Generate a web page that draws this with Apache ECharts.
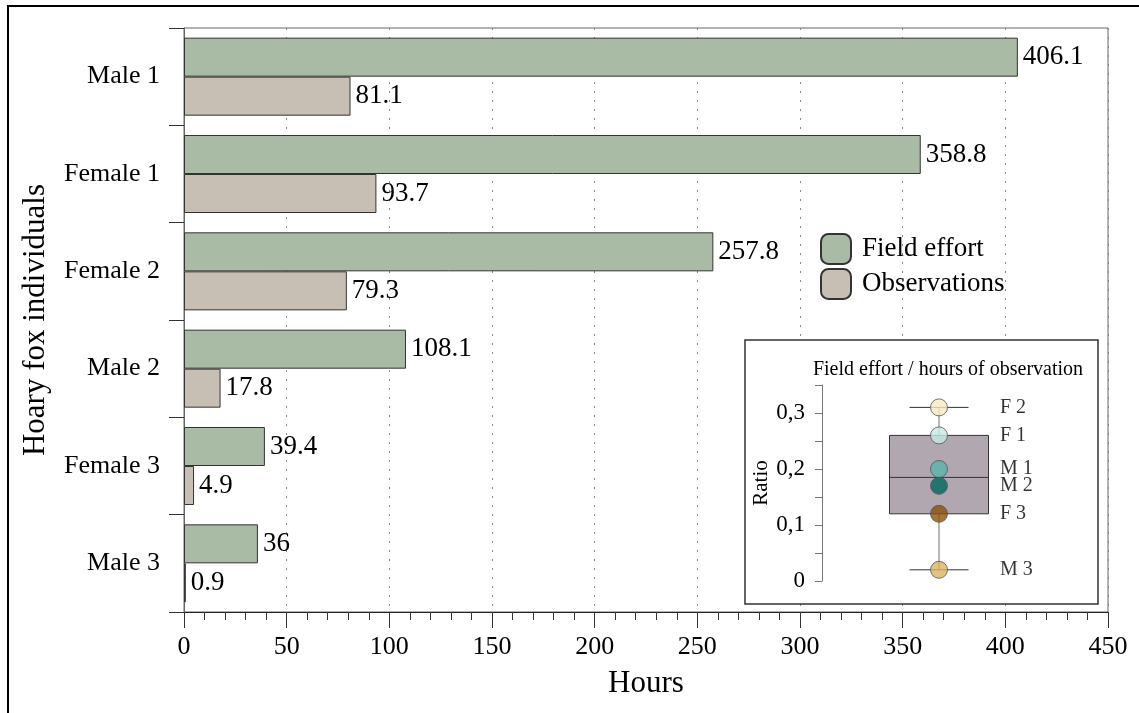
<!DOCTYPE html>
<html>
<head>
<meta charset="utf-8">
<script src="https://cdn.jsdelivr.net/npm/echarts@6/dist/echarts.min.js"></script>
<style>
  html, body { margin: 0; padding: 0; background: #fff; }
  #chart { width: 1139px; height: 713px; }
</style>
</head>
<body>
<div id="chart"></div>
<script>
const individuals = ["Male 1", "Female 1", "Female 2", "Male 2", "Female 3", "Male 3"];
const fieldEffort = [406.1, 358.8, 257.8, 108.1, 39.4, 36];
const observations = [81.1, 93.7, 79.3, 17.8, 4.9, 0.9];

// inset: ratio per individual
const ratioLabels = ["F 2", "F 1", "M 1", "M 2", "F 3", "M 3"];
const ratioValues = [0.31, 0.26, 0.20, 0.17, 0.12, 0.02];
const ratioColors = ["#f6e8c3", "#c7eae5", "#5ab4ac", "#01665e", "#8c510a", "#dcb461"];
// min, q1, median, q3, max
const ratioBox = [0.02, 0.12, 0.185, 0.26, 0.31];

const FONT = "Liberation Serif";

const chart = echarts.init(document.getElementById("chart"), null, { renderer: "canvas" });

chart.setOption({
  animation: false,
  backgroundColor: "#fff",
  textStyle: { fontFamily: FONT, color: "#000" },
  grid: [
    { left: 184, top: 28, width: 924, height: 584, show: true, borderColor: "#666", borderWidth: 1, backgroundColor: "transparent" },
    { left: 822, top: 385, width: 234, height: 196, show: false }
  ],
  legend: {
    data: ["Field effort", "Observations"],
    orient: "vertical",
    left: 820,
    top: 233,
    padding: 0,
    icon: "roundRect",
    itemWidth: 30,
    itemHeight: 30,
    itemGap: 3,
    textStyle: { fontFamily: FONT, fontSize: 27, color: "#000", padding: [0, 0, 0, 6] }
  },
  xAxis: [
    {
      type: "value",
      gridIndex: 0,
      min: 0,
      max: 450,
      interval: 50,
      name: "Hours",
      nameLocation: "middle",
      nameGap: 56,
      nameTextStyle: { fontFamily: FONT, fontSize: 31, color: "#000" },
      axisLine: { show: true, lineStyle: { color: "#222", width: 1 } },
      axisTick: { show: true, length: 16, lineStyle: { color: "#333" } },
      minorTick: { show: true, splitNumber: 5, length: 8, lineStyle: { color: "#333" } },
      axisLabel: { fontFamily: FONT, fontSize: 26, color: "#000", margin: 22 },
      splitLine: { show: true, lineStyle: { color: "#888", type: [2, 7], width: 1 } }
    },
    {
      type: "category",
      gridIndex: 1,
      data: ["ratio"],
      show: false
    }
  ],
  yAxis: [
    {
      type: "category",
      gridIndex: 0,
      data: individuals,
      inverse: true,
      name: "Hoary fox individuals",
      nameLocation: "middle",
      nameGap: 133,
      nameTextStyle: { fontFamily: FONT, fontSize: 31, color: "#000" },
      axisLine: { show: true, lineStyle: { color: "#666", width: 1 } },
      axisTick: { show: true, length: 15, lineStyle: { color: "#333" } },
      axisLabel: { fontFamily: FONT, fontSize: 26, color: "#000", margin: 24 }
    },
    {
      type: "value",
      gridIndex: 1,
      min: 0,
      max: 0.35,
      interval: 0.05,
      z: 20,
      name: "Ratio",
      nameLocation: "middle",
      nameGap: 48,
      nameTextStyle: { fontFamily: FONT, fontSize: 21, color: "#000" },
      axisLine: { show: true, lineStyle: { color: "#777", width: 1 } },
      axisTick: { show: true, length: 7, lineStyle: { color: "#777" } },
      splitLine: { show: false },
      axisLabel: {
        fontFamily: FONT,
        fontSize: 23,
        color: "#000",
        margin: 17,
        formatter: (v) => {
          const t = Math.round(v * 100);
          if (t % 10 !== 0) return "";
          return t === 0 ? "0" : String(t / 100).replace(".", ",");
        }
      }
    }
  ],
  graphic: [
    {
      type: "rect",
      z: 1,
      shape: { x: 8, y: 6, width: 1200, height: 800 },
      style: { fill: "none", stroke: "#000", lineWidth: 2 }
    },
    {
      type: "rect",
      z: 10,
      shape: { x: 745, y: 340, width: 353, height: 264 },
      style: { fill: "#fff", stroke: "#333", lineWidth: 1.5 }
    },
    {
      type: "text",
      z: 20,
      x: 948,
      y: 370,
      style: {
        text: "Field effort / hours of observation",
        fontFamily: FONT,
        fontSize: 20,
        fill: "#000",
        align: "center",
        verticalAlign: "middle"
      }
    }
  ],
  series: [
    {
      name: "Field effort",
      type: "bar",
      xAxisIndex: 0,
      yAxisIndex: 0,
      data: fieldEffort,
      barWidth: 39,
      barGap: "0%",
      itemStyle: { color: "#a9baa5", borderColor: "#333", borderWidth: 1 },
      label: { show: true, position: "right", distance: 5, fontFamily: FONT, fontSize: 27, color: "#000" }
    },
    {
      name: "Observations",
      type: "bar",
      xAxisIndex: 0,
      yAxisIndex: 0,
      data: observations,
      barWidth: 39,
      barGap: "0%",
      itemStyle: { color: "#c7bfb4", borderColor: "#333", borderWidth: 1 },
      label: { show: true, position: "right", distance: 5, fontFamily: FONT, fontSize: 27, color: "#000" }
    },
    {
      type: "custom",
      xAxisIndex: 1,
      yAxisIndex: 1,
      z: 20,
      data: [[0].concat(ratioBox)],
      encode: { x: 0, y: [1, 2, 3, 4, 5] },
      renderItem: (params, api) => {
        const pMin = api.coord([api.value(0), api.value(1)]);
        const pQ1 = api.coord([api.value(0), api.value(2)]);
        const pMed = api.coord([api.value(0), api.value(3)]);
        const pQ3 = api.coord([api.value(0), api.value(4)]);
        const pMax = api.coord([api.value(0), api.value(5)]);
        const cx = pMin[0];
        const boxHalf = 49.5;
        const capHalf = 29.5;
        return {
          type: "group",
          children: [
            { type: "line", shape: { x1: cx, y1: pMin[1], x2: cx, y2: pQ1[1] }, style: { stroke: "#888", lineWidth: 1.2 } },
            { type: "line", shape: { x1: cx, y1: pQ3[1], x2: cx, y2: pMax[1] }, style: { stroke: "#888", lineWidth: 1.2 } },
            { type: "line", shape: { x1: cx - capHalf, y1: pMin[1], x2: cx + capHalf, y2: pMin[1] }, style: { stroke: "#333", lineWidth: 1 } },
            { type: "line", shape: { x1: cx - capHalf, y1: pMax[1], x2: cx + capHalf, y2: pMax[1] }, style: { stroke: "#333", lineWidth: 1 } },
            { type: "rect", shape: { x: cx - boxHalf, y: pQ3[1], width: boxHalf * 2, height: pQ1[1] - pQ3[1] }, style: { fill: "#b1a7b1", stroke: "#333", lineWidth: 1 } },
            { type: "line", shape: { x1: cx - boxHalf, y1: pMed[1], x2: cx + boxHalf, y2: pMed[1] }, style: { stroke: "#333", lineWidth: 1 } }
          ]
        };
      }
    },
    {
      type: "scatter",
      xAxisIndex: 1,
      yAxisIndex: 1,
      z: 21,
      symbolSize: 17,
      data: ratioValues.map((v, i) => ({
        value: [0, v],
        name: ratioLabels[i],
        itemStyle: { color: ratioColors[i], borderColor: "#555", borderWidth: 1 }
      })),
      label: {
        show: true,
        position: "right",
        distance: 52,
        formatter: (p) => p.name,
        fontFamily: FONT,
        fontSize: 20,
        color: "#000"
      }
    }
  ]
});
</script>
</body>
</html>
